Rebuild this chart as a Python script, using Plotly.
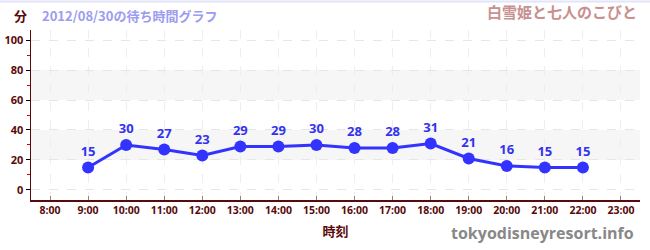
import plotly.graph_objects as go

hours = [9, 10, 11, 12, 13, 14, 15, 16, 17, 18, 19, 20, 21, 22]
waits = [15, 30, 27, 23, 29, 29, 30, 28, 28, 31, 21, 16, 15, 15]
tick_hours = list(range(8, 24))
tick_labels = [f"{h}:00" for h in tick_hours]
y_ticks = [0, 20, 40, 60, 80, 100]
bands = [(20, 40), (60, 80)]

maroon = "#5a0a0a"
fig = go.Figure()

for lo, hi in bands:
    fig.add_shape(type="rect", xref="paper", yref="y", x0=0, x1=1, y0=lo, y1=hi,
                  fillcolor="#f6f6f6", line_width=0, layer="below")

fig.add_trace(go.Scatter(
    x=hours, y=waits, mode="lines+markers+text",
    text=[str(v) for v in waits], textposition="top center",
    textfont=dict(family="Open Sans", size=13, color="#3333ee", weight="bold"),
    line=dict(color="#3333ff", width=3),
    marker=dict(color="#3333ff", size=12),
    cliponaxis=False, hoverinfo="skip",
))

fig.update_layout(
    width=650, height=250,
    margin=dict(l=31, r=10, t=30, b=50, autoexpand=False),
    paper_bgcolor="white", plot_bgcolor="white",
    showlegend=False,
    font=dict(family="Open Sans", color=maroon),
)
fig.update_xaxes(
    range=[7.5, 23.5], tickvals=tick_hours, ticktext=tick_labels,
    tickfont=dict(size=10.5, color=maroon, family="Open Sans", weight="bold"),
    showline=True, linecolor=maroon, linewidth=1.5,
    ticks="inside", ticklen=4, tickcolor="#888888",
    showgrid=True, gridcolor="#eeeeee", griddash="dash", gridwidth=1,
    zeroline=False, automargin=False,
    title=dict(text="時刻", font=dict(family="Noto Sans CJK JP", size=13, color=maroon, weight="bold"), standoff=11),
)
fig.update_yaxes(
    range=[-6.7, 106.7], tickvals=y_ticks,
    tickfont=dict(size=11, color=maroon, family="Open Sans", weight="bold"),
    showline=True, linecolor=maroon, linewidth=1.5,
    ticks="outside", ticklen=4, tickcolor="#000000",
    minor=dict(dtick=10, ticks="outside", ticklen=3, tickcolor="#dd0000", showgrid=False),
    showgrid=True, gridcolor="#e6e6e6", griddash="dash", gridwidth=1,
    zeroline=False, automargin=False,
)

fig.add_shape(type="line", xref="paper", yref="paper", x0=-0.06, x1=1.02, y0=1.168, y1=1.168,
              line=dict(color="#e4e4f8", width=2))

fig.add_annotation(text="分", xref="paper", yref="paper", x=-0.018, y=1.088, xanchor="center", yanchor="middle",
                   showarrow=False, font=dict(family="Noto Sans CJK JP", size=13, color=maroon, weight="bold"))
fig.add_annotation(text="2012/08/30の待ち時間グラフ", xref="paper", yref="paper", x=0.014, y=1.088,
                   xanchor="left", yanchor="middle", showarrow=False,
                   font=dict(family="Noto Sans CJK JP", size=13, color="#9c9cf0", weight="bold"))
fig.add_annotation(text="白雪姫と七人のこびと", xref="paper", yref="paper", x=0.998, y=1.106,
                   xanchor="right", yanchor="middle", showarrow=False,
                   font=dict(family="Noto Sans CJK JP", size=15, color="#c89090", weight="bold"))
fig.add_annotation(text="tokyodisneyresort.info", xref="paper", yref="paper", x=0.993, y=-0.194,
                   xanchor="right", yanchor="middle", showarrow=False,
                   font=dict(family="Open Sans", size=16, color="#888888", weight="bold"))

fig.write_html("out.html", config={"displayModeBar": False, "staticPlot": True},
               post_script="document.body.style.margin='0';document.body.style.overflow='hidden';")
